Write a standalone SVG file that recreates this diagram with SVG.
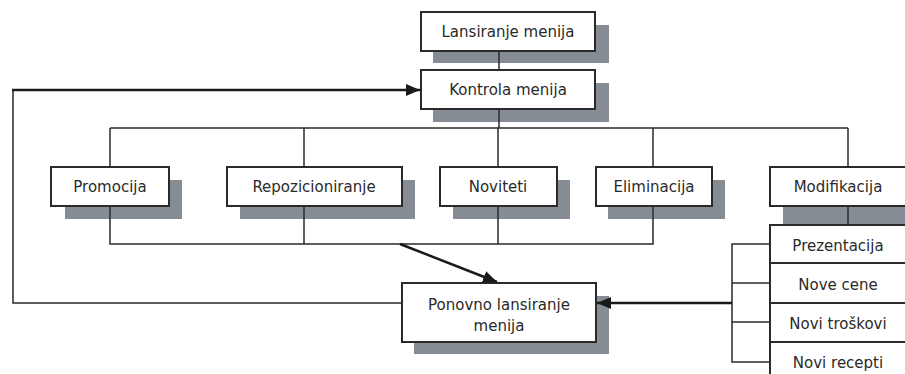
<svg xmlns="http://www.w3.org/2000/svg" width="905" height="374" viewBox="0 0 905 374">
  <style>
    .shadow { fill: #858c93; }
    .box { fill: #fff; stroke: #2a2a2a; stroke-width: 2; }
    .line { fill: none; stroke: #2a2a2a; stroke-width: 1.5; }
    .thick { fill: none; stroke: #1a1a1a; stroke-width: 2.5; }
    .label { font-family: "DejaVu Sans", Verdana, sans-serif; font-size: 15px; fill: #2a2a2a; text-anchor: middle; }
  </style>
  <defs>
    <marker id="arrow" viewBox="0 0 14 12" refX="14" refY="6" markerWidth="14" markerHeight="12" markerUnits="userSpaceOnUse" orient="auto">
      <path d="M0,0 L14,6 L0,12 z" fill="#1a1a1a"/>
    </marker>
  </defs>
  <rect width="905" height="374" fill="#fff"/>

  <g id="lansiranje">
    <rect class="shadow" x="433" y="25" width="176" height="38"/>
    <rect class="box" x="421" y="12" width="174" height="39"/>
    <text class="label" x="508" y="37">Lansiranje menija</text>
  </g>
  <g id="kontrola">
    <rect class="shadow" x="433" y="83" width="176" height="39"/>
    <rect class="box" x="421" y="70" width="174" height="39"/>
    <text class="label" x="508" y="95">Kontrola menija</text>
  </g>
  <g id="promocija">
    <rect class="shadow" x="65" y="180" width="117" height="39"/>
    <rect class="box" x="51" y="167" width="118" height="39"/>
    <text class="label" x="110" y="192">Promocija</text>
  </g>
  <g id="repozicioniranje">
    <rect class="shadow" x="240" y="180" width="175" height="39"/>
    <rect class="box" x="227" y="167" width="175" height="39"/>
    <text class="label" x="314" y="192">Repozicioniranje</text>
  </g>
  <g id="noviteti">
    <rect class="shadow" x="453" y="180" width="117" height="39"/>
    <rect class="box" x="440" y="167" width="117" height="39"/>
    <text class="label" x="498" y="192">Noviteti</text>
  </g>
  <g id="eliminacija">
    <rect class="shadow" x="608" y="180" width="117" height="39"/>
    <rect class="box" x="596" y="167" width="116" height="39"/>
    <text class="label" x="654" y="192">Eliminacija</text>
  </g>
  <g id="modifikacija">
    <rect class="shadow" x="783" y="180" width="130" height="45"/>
    <rect class="box" x="770" y="167" width="140" height="39"/>
    <text class="label" x="838" y="192">Modifikacija</text>
  </g>
  <g id="ponovno">
    <rect class="shadow" x="414" y="296" width="195" height="58"/>
    <rect class="box" x="402" y="283" width="194" height="59"/>
    <text class="label" x="499" y="310">Ponovno lansiranje</text>
    <text class="label" x="499" y="331">menija</text>
  </g>
  <g id="prezentacija">
    <rect class="box" x="770" y="225" width="140" height="38"/>
    <text class="label" x="838" y="251">Prezentacija</text>
  </g>
  <g id="nove-cene">
    <rect class="box" x="770" y="263" width="140" height="40"/>
    <text class="label" x="838" y="290">Nove cene</text>
  </g>
  <g id="novi-troskovi">
    <rect class="box" x="770" y="303" width="140" height="39"/>
    <text class="label" x="838" y="329">Novi troškovi</text>
  </g>
  <g id="novi-recepti">
    <rect class="box" x="770" y="342" width="140" height="40"/>
    <text class="label" x="838" y="368">Novi recepti</text>
  </g>

  <!-- connectors, drawn over the drop shadows -->
  <g id="connectors">
    <line class="line" x1="499" y1="52" x2="499" y2="69"/>
    <line class="line" x1="499" y1="110" x2="499" y2="128"/>
    <line class="line" x1="110" y1="128" x2="848" y2="128"/>
    <line class="line" x1="110" y1="128" x2="110" y2="166"/>
    <line class="line" x1="304" y1="128" x2="304" y2="166"/>
    <line class="line" x1="498" y1="128" x2="498" y2="166"/>
    <line class="line" x1="653" y1="128" x2="653" y2="166"/>
    <line class="line" x1="848" y1="128" x2="848" y2="166"/>
    <polyline class="line" points="110,207 110,244 653,244 653,207"/>
    <line class="line" x1="304" y1="207" x2="304" y2="244"/>
    <line class="line" x1="498" y1="207" x2="498" y2="244"/>
    <line class="line" x1="848" y1="207" x2="848" y2="224"/>
    <line class="thick" x1="400" y1="244" x2="497" y2="282" marker-end="url(#arrow)"/>
    <polyline class="line" points="401,303 13,303 13,90"/>
    <line class="thick" x1="12" y1="90" x2="420" y2="90" marker-end="url(#arrow)"/>
    <polyline class="line" points="769,244 732,244 732,362 769,362"/>
    <line class="line" x1="732" y1="283" x2="769" y2="283"/>
    <line class="line" x1="732" y1="322" x2="769" y2="322"/>
    <line class="thick" x1="732" y1="303" x2="597" y2="303" marker-end="url(#arrow)"/>
  </g>
</svg>
